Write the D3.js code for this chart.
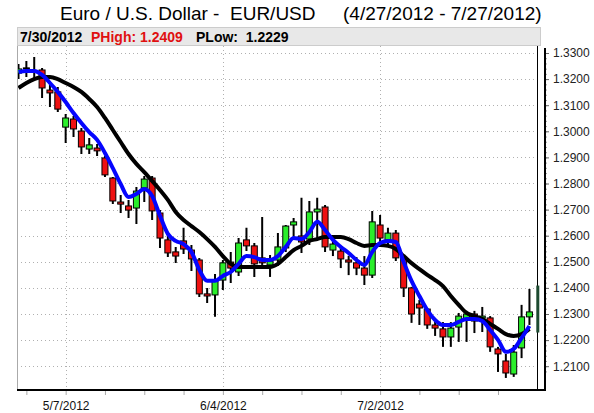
<!DOCTYPE html>
<html>
<head>
<meta charset="utf-8">
<script src="https://cdn.jsdelivr.net/npm/d3@7"></script>
<style>
  body { margin: 0; background: #fff; }
  svg { display: block; font-family: Arial, "Liberation Sans", sans-serif; }
</style>
</head>
<body>
<div class="chart"></div>
<script>
// trading days, 4/27/2012 .. 7/27/2012
var dates = ["4/27","4/30","5/1","5/2","5/3","5/4","5/7","5/8","5/9","5/10","5/11",
  "5/14","5/15","5/16","5/17","5/18","5/21","5/22","5/23","5/24","5/25",
  "5/28","5/29","5/30","5/31","6/1","6/4","6/5","6/6","6/7","6/8",
  "6/11","6/12","6/13","6/14","6/15","6/18","6/19","6/20","6/21","6/22",
  "6/25","6/26","6/27","6/28","6/29","7/2","7/3","7/4","7/5","7/6",
  "7/9","7/10","7/11","7/12","7/13","7/16","7/17","7/18","7/19","7/20",
  "7/23","7/24","7/25","7/26","7/27"];

var opens = [1.3223,1.3243,1.3231,1.3235,1.3158,1.3151,1.3016,1.3047,1.3001,1.2932,1.2936,
  1.2898,1.2821,1.2729,1.2714,1.2706,1.2783,1.2821,1.2687,1.2584,1.2538,
  1.2580,1.2545,1.2507,1.2377,1.2373,1.2430,1.2499,1.2461,1.2584,1.2561,
  1.2515,1.2488,1.2507,1.2553,1.2641,1.2599,1.2587,1.2691,1.2710,1.2545,
  1.2541,1.2507,1.2496,1.2476,1.2449,1.2641,1.2584,1.2610,1.2518,1.2400,
  1.2338,1.2319,1.2258,1.2243,1.2212,1.2250,1.2281,1.2300,1.2285,1.2285,
  1.2166,1.2120,1.2070,1.2170,1.2289];
var highs = [1.3258,1.3269,1.3285,1.3243,1.3177,1.3170,1.3066,1.3059,1.3013,1.2974,1.2951,
  1.2905,1.2825,1.2756,1.2737,1.2787,1.2829,1.2829,1.2698,1.2610,1.2557,
  1.2630,1.2564,1.2515,1.2400,1.2453,1.2507,1.2538,1.2591,1.2630,1.2572,
  1.2672,1.2526,1.2610,1.2641,1.2668,1.2745,1.2733,1.2745,1.2718,1.2587,
  1.2553,1.2523,1.2518,1.2522,1.2695,1.2679,1.2630,1.2622,1.2526,1.2404,
  1.2354,1.2323,1.2273,1.2269,1.2269,1.2304,1.2312,1.2312,1.2327,1.2292,
  1.2174,1.2147,1.2181,1.2335,1.2396];
var lows = [1.3200,1.3208,1.3204,1.3128,1.3093,1.3074,1.2955,1.2978,1.2913,1.2913,1.2905,
  1.2825,1.2721,1.2687,1.2668,1.2645,1.2729,1.2660,1.2553,1.2518,1.2495,
  1.2530,1.2465,1.2365,1.2342,1.2289,1.2392,1.2419,1.2446,1.2541,1.2442,
  1.2488,1.2442,1.2484,1.2538,1.2584,1.2534,1.2564,1.2591,1.2538,1.2522,
  1.2476,1.2449,1.2449,1.2411,1.2438,1.2572,1.2564,1.2503,1.2365,1.2266,
  1.2258,1.2243,1.2216,1.2174,1.2174,1.2193,1.2193,1.2227,1.2231,1.2155,
  1.2078,1.2055,1.2059,1.2131,1.2258];
var closes = [1.3239,1.3243,1.3231,1.3166,1.3147,1.3085,1.3051,1.3009,1.2940,1.2948,1.2925,
  1.2833,1.2733,1.2721,1.2698,1.2771,1.2817,1.2695,1.2591,1.2534,1.2522,
  1.2549,1.2511,1.2377,1.2369,1.2430,1.2496,1.2476,1.2572,1.2561,1.2492,
  1.2496,1.2503,1.2557,1.2637,1.2653,1.2576,1.2691,1.2702,1.2557,1.2568,
  1.2511,1.2499,1.2476,1.2449,1.2653,1.2591,1.2610,1.2515,1.2400,1.2300,
  1.2323,1.2258,1.2246,1.2212,1.2246,1.2292,1.2300,1.2273,1.2292,1.2174,
  1.2147,1.2074,1.2154,1.2289,1.2308];

// slow average (black) and fast average (blue)
var maSlow = [1.3166,1.3185,1.3200,1.3208,1.3208,1.3200,1.3185,1.3170,1.3151,1.3124,1.3093,
  1.3051,1.3005,1.2959,1.2913,1.2875,1.2844,1.2810,1.2775,1.2737,1.2691,
  1.2660,1.2637,1.2614,1.2587,1.2557,1.2522,1.2492,1.2480,1.2480,1.2480,
  1.2480,1.2480,1.2492,1.2518,1.2545,1.2561,1.2580,1.2587,1.2595,1.2595,
  1.2595,1.2587,1.2572,1.2561,1.2564,1.2564,1.2561,1.2549,1.2522,1.2495,
  1.2472,1.2450,1.2430,1.2407,1.2369,1.2335,1.2304,1.2292,1.2281,1.2262,
  1.2243,1.2223,1.2216,1.2223,1.2243];
var maFast = [1.3227,1.3231,1.3231,1.3216,1.3185,1.3151,1.3112,1.3070,1.3032,1.2997,1.2967,
  1.2917,1.2859,1.2798,1.2748,1.2760,1.2779,1.2752,1.2676,1.2607,1.2580,
  1.2568,1.2538,1.2469,1.2427,1.2427,1.2446,1.2461,1.2492,1.2522,1.2518,
  1.2507,1.2507,1.2522,1.2557,1.2591,1.2587,1.2614,1.2653,1.2622,1.2584,
  1.2557,1.2534,1.2507,1.2488,1.2538,1.2572,1.2580,1.2576,1.2499,1.2427,
  1.2369,1.2315,1.2277,1.2258,1.2258,1.2270,1.2281,1.2281,1.2273,1.2239,
  1.2201,1.2155,1.2166,1.2208,1.2254];

var yTicks = [1.21,1.22,1.23,1.24,1.25,1.26,1.27,1.28,1.29,1.30,1.31,1.32,1.33];
var labelDays = ["5/7","6/4","7/2"];
var lastDay = "7/30/2012", lastHigh = 1.2409, lastLow = 1.2229;

var width = 594, height = 413;
// note: "top" is taken by window.top, so plot edges get their own names
var plotLeft = 17, plotRight = 537, plotTop = 46, plotBottom = 390, axisX = 545;

var x = d3.scaleLinear().domain([0, 66]).range([18.5, 537.3]);
var y = d3.scaleLinear().domain([1.21, 1.33]).range([366.2, 53]);

var svg = d3.select(".chart").append("svg")
  .attr("width", width)
  .attr("height", height);

// title
svg.append("text")
  .attr("x", 60).attr("y", 20)
  .attr("font-size", 19)
  .style("white-space", "pre")
  .text("Euro / U.S. Dollar -  EUR/USD");
svg.append("text")
  .attr("x", 343).attr("y", 20)
  .attr("font-size", 19)
  .text("(4/27/2012 - 7/27/2012)");

// info bar
svg.append("rect")
  .attr("x", 17.5).attr("y", 27.5)
  .attr("width", 523).attr("height", 18)
  .attr("fill", "#e8e8e8")
  .attr("stroke", "#cccccc");
var info = svg.append("text")
  .attr("x", 20).attr("y", 42)
  .attr("font-size", 14)
  .attr("font-weight", "bold")
  .style("white-space", "pre");
info.append("tspan").text(lastDay);
info.append("tspan").attr("x", 91).attr("fill", "#e01010").text("PHigh: " + lastHigh.toFixed(4));
info.append("tspan").attr("x", 196).text("PLow:  " + lastLow.toFixed(4));

// grid
svg.append("g").selectAll("line")
  .data(yTicks)
  .join("line")
    .attr("x1", plotLeft).attr("x2", plotRight)
    .attr("y1", function(d) { return Math.round(y(d)) + 0.5; })
    .attr("y2", function(d) { return Math.round(y(d)) + 0.5; })
    .attr("stroke", "#b0b0b0")
    .attr("stroke-dasharray", "1,3");

var labelIdx = labelDays.map(function(d) { return dates.indexOf(d); });
svg.append("g").selectAll("line")
  .data(labelIdx)
  .join("line")
    .attr("x1", function(d) { return Math.round(x(d)) + 0.5; })
    .attr("x2", function(d) { return Math.round(x(d)) + 0.5; })
    .attr("y1", plotTop).attr("y2", plotBottom)
    .attr("stroke", "#b0b0b0")
    .attr("stroke-dasharray", "1,3");

// candles
svg.append("clipPath").attr("id", "plotclip")
  .append("rect")
    .attr("x", plotLeft + 0.5).attr("y", plotTop)
    .attr("width", plotRight - plotLeft - 0.5).attr("height", plotBottom - plotTop);

var plot = svg.append("g").attr("clip-path", "url(#plotclip)");

var data = dates.map(function(d, i) {
  return { date: d, i: i, o: opens[i], h: highs[i], l: lows[i], c: closes[i] };
});

var candles = plot.selectAll("g.candle")
  .data(data)
  .join("g")
    .attr("class", "candle");

candles.append("line")
  .attr("x1", function(d) { return x(d.i); })
  .attr("x2", function(d) { return x(d.i); })
  .attr("y1", function(d) { return y(d.h); })
  .attr("y2", function(d) { return y(d.l); })
  .attr("stroke", "#000")
  .attr("stroke-width", 2);

candles.append("rect")
  .attr("x", function(d) { return x(d.i) - 3; })
  .attr("width", 6)
  .attr("y", function(d) { return y(Math.max(d.o, d.c)); })
  .attr("height", function(d) { return Math.max(1, Math.abs(y(d.o) - y(d.c))); })
  .attr("fill", function(d) {
    if (d.c > d.o) return "#2aee2a";
    if (d.c < d.o) return "#ee1111";
    return "#000";
  })
  .attr("stroke", "#000")
  .attr("stroke-width", 1);

// moving averages
var lineGen = d3.line()
  .x(function(d, i) { return x(i); })
  .y(function(d) { return y(d); })
  .curve(d3.curveMonotoneX);

plot.append("path")
  .datum(maSlow)
  .attr("d", lineGen)
  .attr("fill", "none")
  .attr("stroke", "#000")
  .attr("stroke-width", 4);

plot.append("path")
  .datum(maFast)
  .attr("d", lineGen)
  .attr("fill", "none")
  .attr("stroke", "#0505ff")
  .attr("stroke-width", 4);

// frame
svg.append("line")
  .attr("x1", plotLeft + 0.5).attr("x2", plotLeft + 0.5)
  .attr("y1", plotTop).attr("y2", plotBottom)
  .attr("stroke", "#aaaaaa");
svg.append("line")
  .attr("x1", plotRight + 0.5).attr("x2", plotRight + 0.5)
  .attr("y1", plotTop).attr("y2", plotBottom)
  .attr("stroke", "#000");

// today's range bar
svg.append("rect")
  .attr("x", x(66) - 1)
  .attr("width", 3)
  .attr("y", y(lastHigh))
  .attr("height", y(lastLow) - y(lastHigh))
  .attr("fill", "#1d4a30");

// right axis
var minorTicks = d3.range(0, 62).map(function(k) { return 1.208 + k * 0.002; })
  .filter(function(v) { return y(v) > plotTop + 2 && y(v) < plotBottom - 1; });
svg.append("g")
  .attr("transform", "translate(" + axisX + ",0)")
  .call(d3.axisRight(y).tickValues(minorTicks).tickSize(2).tickFormat(""))
  .call(function(g) { g.select(".domain").remove(); })
  .selectAll("line").attr("stroke", "#999");

var yAxis = svg.append("g")
  .attr("transform", "translate(" + axisX + ",0)")
  .call(d3.axisRight(y).tickValues(yTicks).tickSize(4).tickPadding(4).tickFormat(d3.format(".4f")));
yAxis.select(".domain").remove();
yAxis.selectAll("line").attr("stroke", "#666");
yAxis.selectAll("text")
  .attr("font-size", 12)
  .attr("font-family", "Arial, 'Liberation Sans', sans-serif")
  .attr("fill", "#222");

svg.append("line")
  .attr("x1", axisX).attr("x2", axisX)
  .attr("y1", plotTop + 2).attr("y2", plotBottom + 1)
  .attr("stroke", "#000")
  .attr("stroke-width", 2);

// bottom axis
var mondays = [1, 6, 11, 16, 21, 26, 31, 36, 41, 46, 51, 56, 61];
var xAxis = svg.append("g")
  .attr("transform", "translate(0," + (plotBottom + 1) + ")")
  .call(d3.axisBottom(x).tickValues(mondays).tickSize(4).tickPadding(6)
    .tickFormat(function(d) {
      return labelIdx.indexOf(d) >= 0 ? dates[d] + "/2012" : "";
    }));
xAxis.select(".domain").remove();
xAxis.selectAll("line").attr("stroke", "#aaa");
xAxis.selectAll("text")
  .attr("font-size", 12)
  .attr("font-family", "Arial, 'Liberation Sans', sans-serif")
  .attr("fill", "#111");

svg.append("line")
  .attr("x1", plotLeft).attr("x2", axisX + 1)
  .attr("y1", plotBottom).attr("y2", plotBottom)
  .attr("stroke", "#000")
  .attr("stroke-width", 2);
</script>
</body>
</html>
